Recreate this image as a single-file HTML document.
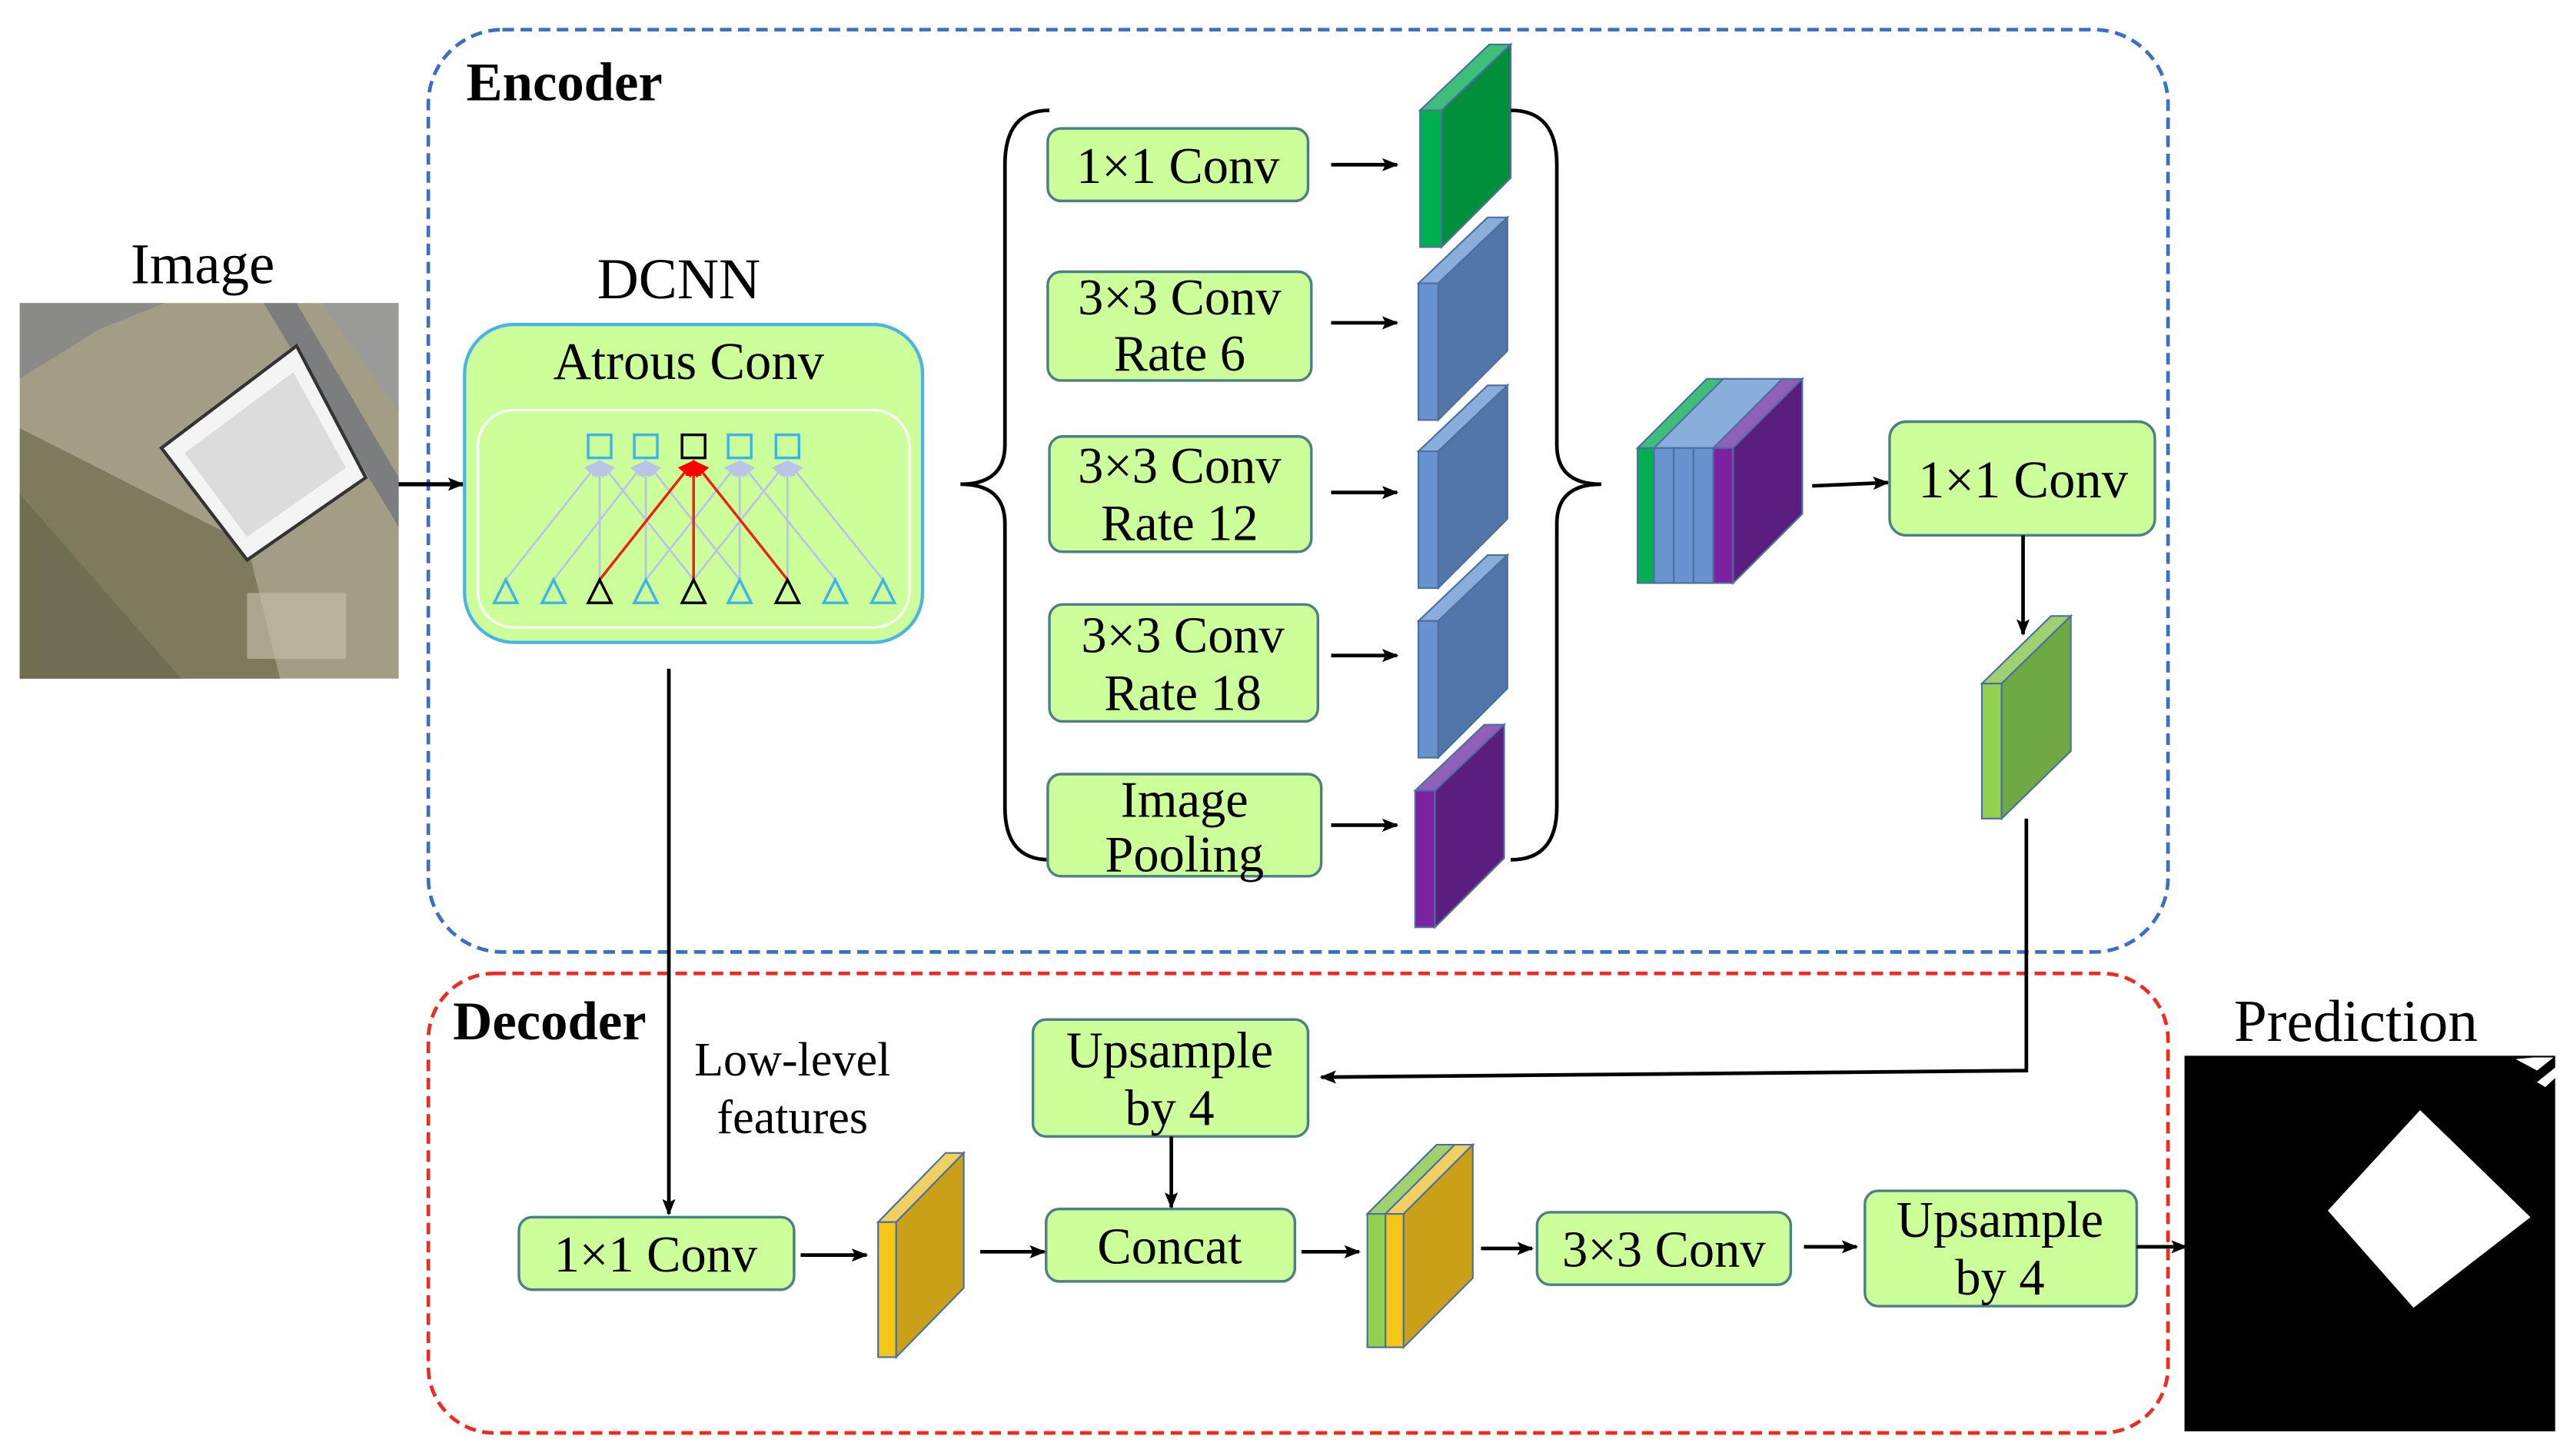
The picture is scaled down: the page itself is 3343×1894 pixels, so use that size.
<!DOCTYPE html>
<html><head><meta charset="utf-8"><style>
html,body{margin:0;padding:0;background:#fff;}
svg{display:block;}
text{font-family:"Liberation Serif",serif;fill:#000;}
</style></head><body>
<svg width="3343" height="1894" viewBox="0 0 1560 884" preserveAspectRatio="none" xmlns="http://www.w3.org/2000/svg">
<defs>
<marker id="ah" markerWidth="10" markerHeight="8" refX="9" refY="4" orient="auto" markerUnits="userSpaceOnUse">
<path d="M0,0 L10,4 L0,8 L2,4 Z" fill="#000"/></marker>
<marker id="ar" markerWidth="10" markerHeight="10" refX="9" refY="5" orient="auto" markerUnits="userSpaceOnUse">
<path d="M0,0 L10,5 L0,10 Z" fill="#f00"/></marker>
<marker id="ab" markerWidth="10" markerHeight="10" refX="9" refY="5" orient="auto" markerUnits="userSpaceOnUse">
<path d="M0,0 L10,5 L0,10 Z" fill="#b8c4e8"/></marker>
</defs>

<rect x="260" y="18" width="1056" height="560" rx="45" fill="none" stroke="#3a6fc4" stroke-width="2.2" stroke-dasharray="7,4"/>
<rect x="260" y="591" width="1056" height="279" rx="40" fill="none" stroke="#f02a20" stroke-width="2.2" stroke-dasharray="7,4"/>
<text x="283" y="61" font-size="33" font-weight="bold">Encoder</text>
<text x="275" y="631" font-size="33" font-weight="bold">Decoder</text>

<text x="123" y="172" font-size="35" text-anchor="middle">Image</text>
<rect x="12" y="184" width="230" height="228" fill="#a49d86"/>
<path d="M12,230 L60,200 L100,184 L12,184Z" fill="#8a8a86"/>
<path d="M12,260 L150,330 L170,412 L12,412Z" fill="#7e7a5e"/>
<path d="M12,300 L110,412 L12,412Z" fill="#6f6d52"/>
<path d="M160,184 L180,184 L242,290 L242,320 Z" fill="#7c7d7e"/>
<path d="M195,184 L242,184 L242,250 Z" fill="#9a9a98"/>
<path d="M98,272 L180,210 L222,290 L150,340 Z" fill="#f4f4f4" stroke="#333" stroke-width="2"/>
<path d="M112,275 L178,226 L210,284 L150,326 Z" fill="#dcdcdc"/>
<rect x="150" y="360" width="60" height="40" fill="#c0b9a4" opacity="0.7"/>

<line x1="242" y1="294" x2="281" y2="294" stroke="#000" stroke-width="2.5" marker-end="url(#ah)"/>

<text x="412" y="181" font-size="35" text-anchor="middle">DCNN</text>
<rect x="282" y="197" width="278" height="193" rx="30" fill="#ccff99" stroke="#4ab3e8" stroke-width="2"/>
<text x="418" y="230" font-size="32" text-anchor="middle">Atrous Conv</text>
<rect x="290" y="249" width="262" height="132" rx="22" fill="none" stroke="#fff" stroke-width="1.5"/>
<g stroke="#b8c4e8" stroke-width="1.3" fill="none">
<line x1="307" y1="352" x2="364" y2="280" marker-end="url(#ab)"/>
<line x1="364" y1="352" x2="364" y2="280" marker-end="url(#ab)"/>
<line x1="421" y1="352" x2="364" y2="280" marker-end="url(#ab)"/>
<line x1="336" y1="352" x2="392" y2="280" marker-end="url(#ab)"/>
<line x1="392" y1="352" x2="392" y2="280" marker-end="url(#ab)"/>
<line x1="449" y1="352" x2="392" y2="280" marker-end="url(#ab)"/>
<line x1="392" y1="352" x2="449" y2="280" marker-end="url(#ab)"/>
<line x1="449" y1="352" x2="449" y2="280" marker-end="url(#ab)"/>
<line x1="507" y1="352" x2="449" y2="280" marker-end="url(#ab)"/>
<line x1="421" y1="352" x2="478" y2="280" marker-end="url(#ab)"/>
<line x1="478" y1="352" x2="478" y2="280" marker-end="url(#ab)"/>
<line x1="536" y1="352" x2="478" y2="280" marker-end="url(#ab)"/>
</g>
<g stroke="#f02010" stroke-width="1.6">
<line x1="364" y1="352" x2="421" y2="280" marker-end="url(#ar)"/>
<line x1="421" y1="352" x2="421" y2="280" marker-end="url(#ar)"/>
<line x1="478" y1="352" x2="421" y2="280" marker-end="url(#ar)"/>
</g>
<g fill="none" stroke-width="1.6">
<rect x="357" y="264" width="14" height="14" stroke="#3cb4e6"/>
<rect x="385" y="264" width="14" height="14" stroke="#3cb4e6"/>
<rect x="414" y="264" width="14" height="14" stroke="#000"/>
<rect x="442" y="264" width="14" height="14" stroke="#3cb4e6"/>
<rect x="471" y="264" width="14" height="14" stroke="#3cb4e6"/>
</g>
<g fill="none" stroke-width="1.6" stroke="#3cb4e6">
<path d="M300,366 L307,352 L314,366Z"/><path d="M329,366 L336,352 L343,366Z"/>
<path d="M385,366 L392,352 L399,366Z"/><path d="M442,366 L449,352 L456,366Z"/>
<path d="M500,366 L507,352 L514,366Z"/><path d="M529,366 L536,352 L543,366Z"/>
</g>
<g fill="none" stroke-width="1.6" stroke="#000">
<path d="M357,366 L364,352 L371,366Z"/><path d="M414,366 L421,352 L428,366Z"/><path d="M471,366 L478,352 L485,366Z"/>
</g>

<path d="M637,67 Q610,67 610,100 L610,270 Q610,294 583,294 Q610,294 610,318 L610,490 Q610,522 637,522" fill="none" stroke="#000" stroke-width="2.2"/>

<g fill="#ccff99" stroke="#4d7f86" stroke-width="1.6">
<rect x="636" y="78" width="158" height="44" rx="8"/>
<rect x="636" y="165" width="160" height="66" rx="8"/>
<rect x="637" y="265" width="159" height="70" rx="8"/>
<rect x="637" y="367" width="163" height="71" rx="8"/>
<rect x="636" y="470" width="166" height="62" rx="8"/>
</g>
<g font-size="31" text-anchor="middle">
<text x="715" y="111">1×1 Conv</text>
<text x="716" y="191">3×3 Conv</text><text x="716" y="225">Rate 6</text>
<text x="716" y="293">3×3 Conv</text><text x="716" y="328">Rate 12</text>
<text x="718" y="396">3×3 Conv</text><text x="718" y="431">Rate 18</text>
<text x="719" y="496">Image</text><text x="719" y="529">Pooling</text>
</g>
<g stroke="#000" stroke-width="2.2" marker-end="url(#ah)">
<line x1="808" y1="100" x2="848" y2="100"/>
<line x1="808" y1="196" x2="848" y2="196"/>
<line x1="808" y1="299" x2="848" y2="299"/>
<line x1="808" y1="398" x2="848" y2="398"/>
<line x1="808" y1="501" x2="848" y2="501"/>
</g>

<g stroke="#4a6fa0" stroke-width="1">
<path d="M862,67 L904,27 L917,27 L875,67Z" fill="#3cbf78"/>
<rect x="862" y="67" width="13" height="83" fill="#00b050"/>
<path d="M875,67 L917,27 L917,108 L875,150Z" fill="#00903c"/>
<path d="M861,172 L903,132 L915,132 L873,172Z" fill="#8aaedc"/>
<rect x="861" y="172" width="12" height="83" fill="#6793cf"/>
<path d="M873,172 L915,132 L915,213 L873,255Z" fill="#5177a8"/>
<path d="M861,274 L903,234 L915,234 L873,274Z" fill="#8aaedc"/>
<rect x="861" y="274" width="12" height="83" fill="#6793cf"/>
<path d="M873,274 L915,234 L915,315 L873,357Z" fill="#5177a8"/>
<path d="M861,377 L903,337 L915,337 L873,377Z" fill="#8aaedc"/>
<rect x="861" y="377" width="12" height="83" fill="#6793cf"/>
<path d="M873,377 L915,337 L915,418 L873,460Z" fill="#5177a8"/>
<path d="M859,480 L901,440 L913,440 L871,480Z" fill="#9060b8"/>
<rect x="859" y="480" width="12" height="83" fill="#7a22a0"/>
<path d="M871,480 L913,440 L913,521 L871,563Z" fill="#5c1e7e"/>
</g>

<path d="M917,67 Q945,67 945,100 L945,270 Q945,294 972,294 Q945,294 945,318 L945,490 Q945,522 917,522" fill="none" stroke="#000" stroke-width="2.2"/>

<g stroke="#4a6fa0" stroke-width="1">
<path d="M994,272 L1036,230 L1048,230 L1006,272Z" fill="#3cbf78"/>
<path d="M1004,272 L1046,230 L1082,230 L1040,272Z" fill="#8aaedc"/>
<path d="M1040,272 L1082,230 L1094,230 L1052,272Z" fill="#9060b8"/>
<rect x="994" y="272" width="10" height="82" fill="#00b050"/>
<rect x="1004" y="272" width="12" height="82" fill="#6793cf"/>
<rect x="1016" y="272" width="12" height="82" fill="#6793cf"/>
<rect x="1028" y="272" width="12" height="82" fill="#6793cf"/>
<rect x="1040" y="272" width="12" height="82" fill="#7a22a0"/>
<path d="M1052,272 L1094,230 L1094,312 L1052,354Z" fill="#5c1e7e"/>
</g>
<line x1="1100" y1="295" x2="1146" y2="293" stroke="#000" stroke-width="2.2" marker-end="url(#ah)"/>
<rect x="1147" y="256" width="161" height="69" rx="10" fill="#ccff99" stroke="#4d7f86" stroke-width="1.6"/>
<text x="1228" y="302" font-size="32" text-anchor="middle">1×1 Conv</text>
<line x1="1228" y1="325" x2="1228" y2="385" stroke="#000" stroke-width="2.2" marker-end="url(#ah)"/>
<g stroke="#4a6fa0" stroke-width="1">
<path d="M1203,415 L1245,374 L1257,374 L1215,415Z" fill="#a0d070"/>
<rect x="1203" y="415" width="12" height="82" fill="#92d050"/>
<path d="M1215,415 L1257,374 L1257,456 L1215,497Z" fill="#70a844"/>
</g>
<polyline points="1230,497 1230,650 802,654" fill="none" stroke="#000" stroke-width="2.2" marker-end="url(#ah)"/>

<line x1="406" y1="406" x2="406" y2="737" stroke="#000" stroke-width="2.2" marker-end="url(#ah)"/>
<text x="481" y="653" font-size="29" text-anchor="middle">Low-level</text>
<text x="481" y="688" font-size="29" text-anchor="middle">features</text>

<g fill="#ccff99" stroke="#4d7f86" stroke-width="1.6">
<rect x="627" y="619" width="167" height="71" rx="8"/>
<rect x="635" y="734" width="151" height="44" rx="8"/>
<rect x="315" y="739" width="167" height="44" rx="8"/>
<rect x="933" y="736" width="154" height="44" rx="8"/>
<rect x="1132" y="723" width="165" height="70" rx="8"/>
</g>
<g font-size="31" text-anchor="middle">
<text x="710" y="648">Upsample</text><text x="710" y="683">by 4</text>
<text x="710" y="767">Concat</text>
<text x="398" y="772">1×1 Conv</text>
<text x="1010" y="769">3×3 Conv</text>
<text x="1214" y="751">Upsample</text><text x="1214" y="786">by 4</text>
</g>
<g stroke="#000" stroke-width="2.2" marker-end="url(#ah)">
<line x1="711" y1="690" x2="711" y2="733"/>
<line x1="486" y1="762" x2="526" y2="762"/>
<line x1="595" y1="760" x2="634" y2="760"/>
<line x1="790" y1="760" x2="825" y2="760"/>
<line x1="899" y1="758" x2="930" y2="758"/>
<line x1="1095" y1="757" x2="1127" y2="757"/>
<line x1="1297" y1="757" x2="1327" y2="757"/>
</g>
<g stroke="#4a6fa0" stroke-width="1">
<path d="M533,742 L574,700 L585,700 L544,742Z" fill="#f0d060"/>
<rect x="533" y="742" width="11" height="82" fill="#f5c518"/>
<path d="M544,742 L585,700 L585,782 L544,824Z" fill="#c9a018"/>
<path d="M830,737 L872,695 L883,695 L841,737Z" fill="#a0d070"/>
<path d="M841,737 L883,695 L894,695 L852,737Z" fill="#f0d060"/>
<rect x="830" y="737" width="11" height="81" fill="#92d050"/>
<rect x="841" y="737" width="11" height="81" fill="#f5c518"/>
<path d="M852,737 L894,695 L894,776 L852,818Z" fill="#c9a018"/>
</g>

<text x="1430" y="632" font-size="36" text-anchor="middle">Prediction</text>
<rect x="1326" y="641" width="225" height="228" fill="#000"/>
<path d="M1413,735 L1469,674 L1536,739 L1465,794 Z" fill="#fff"/>
<path d="M1527,643 L1540,650 L1550,642 L1538,642Z" fill="#fff"/>
<path d="M1540,657 L1555,645 L1557,649 L1545,660Z" fill="#fff"/>
</svg>
</body></html>
